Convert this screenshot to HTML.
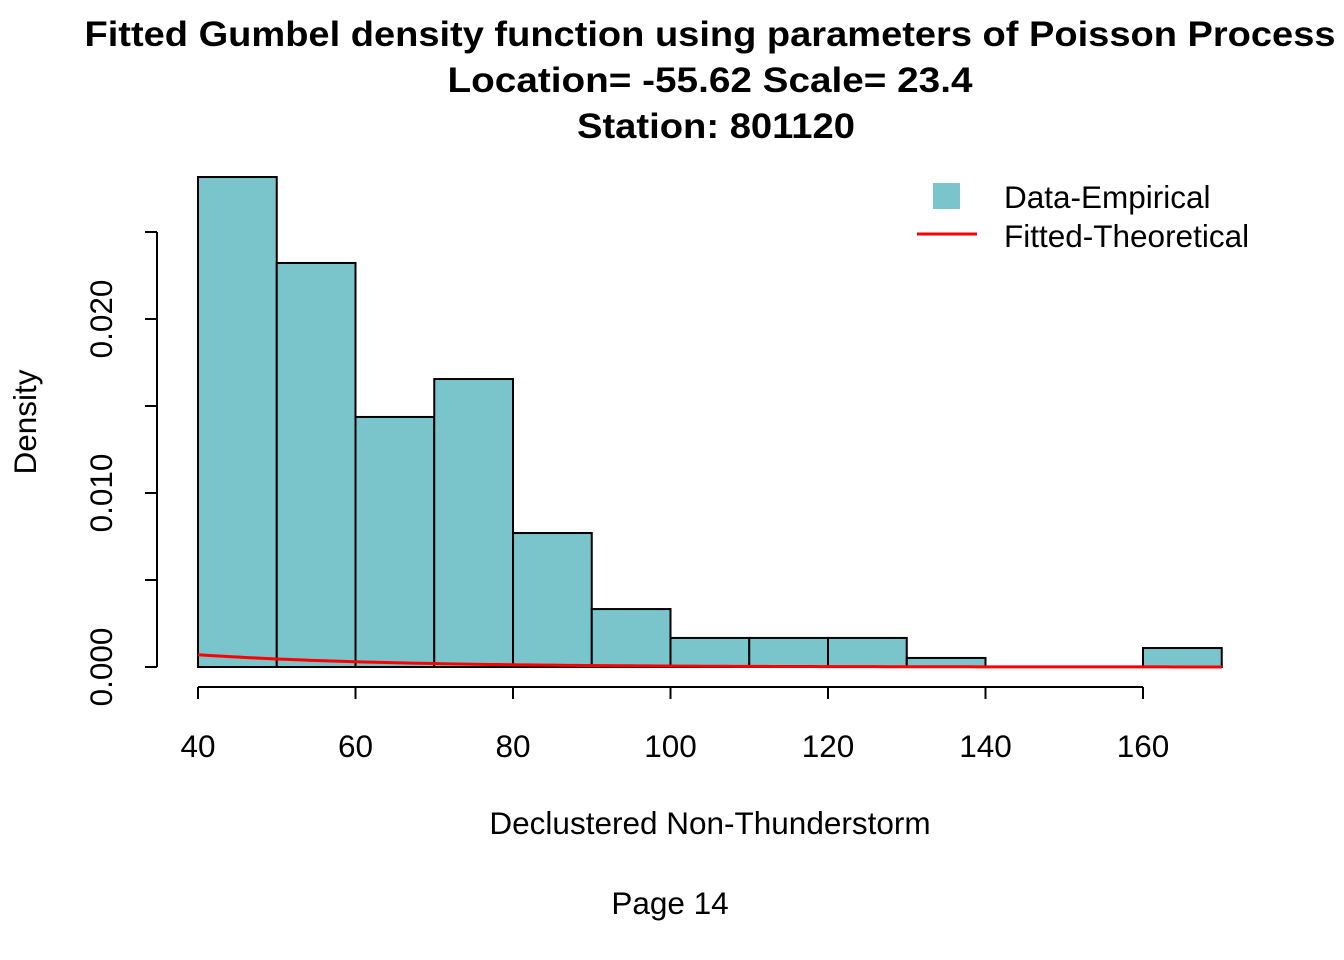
<!DOCTYPE html>
<html><head><meta charset="utf-8"><style>
body{margin:0;background:#fff;}
svg{display:block;font-family:"Liberation Sans",Arial,sans-serif;}
</style></head><body>
<svg id="chart" width="1344" height="960">
<g font-weight="bold" font-size="35" text-anchor="middle">
<text x="710" y="46" textLength="1251" lengthAdjust="spacingAndGlyphs">Fitted Gumbel density function using parameters of Poisson Process</text>
<text x="710" y="92" textLength="525" lengthAdjust="spacingAndGlyphs">Location= -55.62  Scale= 23.4</text>
<text x="716" y="138" textLength="278" lengthAdjust="spacingAndGlyphs">Station: 801120</text>
</g>
<g id="bars"></g>
<g id="axes"></g>
<polyline id="curve" fill="none" stroke="#ff0000" stroke-width="3"/>
<text x="710" y="834" font-size="31.5" text-anchor="middle">Declustered Non-Thunderstorm</text>
<text transform="translate(36,422) rotate(-90)" font-size="31.5" text-anchor="middle">Density</text>
<text x="670" y="914" font-size="31.5" text-anchor="middle">Page 14</text>
<g>
<rect x="933" y="183" width="27" height="26" fill="#7ac4cc"/>
<text x="1004" y="208" font-size="31.5">Data-Empirical</text>
<line x1="917" x2="977" y1="234" y2="234" stroke="#ff0000" stroke-width="3"/>
<text x="1004" y="247" font-size="31.5">Fitted-Theoretical</text>
</g>
</svg>
<script>
const binStarts=[40,50,60,70,80,90,100,110,120,130,140,150,160];
const binWidth=10;
const densities=[0.02816,0.02322,0.01437,0.01655,0.0077,0.00333,0.00167,0.00167,0.00167,0.00052,0,0,0.00109];
const xTicks=[40,60,80,100,120,140,160];
const yTicks=[0,0.005,0.010,0.015,0.020,0.025];
const yLabels=["0.000","","0.010","","0.020",""];
const gumbelParams=[-55.62,23.4];
const NS="http://www.w3.org/2000/svg";
const X=v=>198+(v-40)*7.875;
const Y=v=>667-v*17400;
function mk(tag,attrs,parent){const e=document.createElementNS(NS,tag);for(const k in attrs)e.setAttribute(k,attrs[k]);parent.appendChild(e);return e;}
const bars=document.getElementById('bars');
binStarts.forEach((b,i)=>{
  if(densities[i]<=0){const l=mk('line',{x1:X(b),x2:X(b+binWidth),y1:Y(0),y2:Y(0),stroke:'#000','stroke-width':2},bars);
  
  return;}
  const r=mk('rect',{x:X(b),y:Y(densities[i]),width:X(b+binWidth)-X(b),height:Y(0)-Y(densities[i]),fill:'#7ac4cc',stroke:'#000','stroke-width':2},bars);
  
  
});
const ax=document.getElementById('axes');
let l=mk('line',{x1:X(xTicks[0]),x2:X(xTicks[xTicks.length-1]),y1:687,y2:687,stroke:'#000','stroke-width':2},ax);


xTicks.forEach(t=>{
  const tk=mk('line',{x1:X(t),x2:X(t),y1:687,y2:699,stroke:'#000','stroke-width':2},ax);
  
  
  const tx=mk('text',{x:X(t),y:757,'font-size':31.5,'text-anchor':'middle'},ax);tx.textContent=t;
  
  
});
l=mk('line',{x1:157,x2:157,y1:Y(yTicks[0]),y2:Y(yTicks[yTicks.length-1]),stroke:'#000','stroke-width':2},ax);


yTicks.forEach((t,i)=>{
  const tk=mk('line',{x1:145,x2:157,y1:Y(t),y2:Y(t),stroke:'#000','stroke-width':2},ax);
  
  
  if(yLabels[i]){const tx=mk('text',{transform:`translate(112,${Y(t)}) rotate(-90)`,'font-size':31.5,'text-anchor':'middle'},ax);tx.textContent=yLabels[i];
  
  }
});
const [mu,s]=gumbelParams;const pts=[];
for(let x=40;x<=170;x+=1){const z=(x-mu)/s;const f=Math.exp(-(z+Math.exp(-z)))/s;pts.push(X(x)+','+Y(f));}
document.getElementById('curve').setAttribute('points',pts.join(' '));
</script>
</body></html>
